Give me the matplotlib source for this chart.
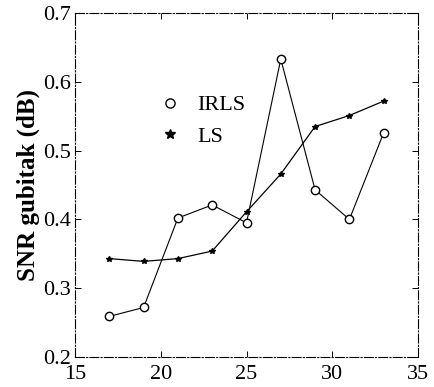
import numpy as np
import matplotlib
matplotlib.use("Agg")
import matplotlib.pyplot as plt  # noqa: E402

plt.rcParams["font.family"] = ["Liberation Serif", "DejaVu Serif"]

x = [17, 19, 21, 23, 25, 27, 29, 31, 33]
irls = [0.259, 0.272, 0.402, 0.421, 0.395, 0.633, 0.443, 0.400, 0.526]
ls = [0.343, 0.339, 0.343, 0.354, 0.411, 0.466, 0.535, 0.551, 0.572]
xticks = [15, 20, 25, 30, 35]
yticks = [0.2, 0.3, 0.4, 0.5, 0.6, 0.7]


def main():
    fig = plt.figure(figsize=(4.34, 3.87), dpi=100)
    ax = fig.add_axes([75 / 434, 30 / 387, 343 / 434, 344 / 387])

    ax.plot(x, irls, color="k", lw=0.8, marker="o", ms=6, mfc="white",
            mec="k", mew=1.0, label="IRLS")
    ax.plot(x, ls, color="k", lw=0.9, marker="*", ms=4, mfc="k", mec="k",
            label="LS")

    ax.set_xlim(15, 35)
    ax.set_ylim(0.2, 0.7)
    ax.set_xticks(xticks)
    ax.set_yticks(yticks)
    ax.set_xticklabels([str(t) for t in xticks])
    ax.set_yticklabels([f"{t:.1f}" for t in yticks])
    ax.tick_params(direction="in", top=True, right=True, labelsize=16,
                   length=4, width=0.7)
    ax.tick_params(axis="y", pad=3)
    ax.tick_params(axis="x", pad=6)
    for s in ax.spines.values():
        s.set_linewidth(0.8)
        s.set_linestyle((0, (8, 2, 1, 2)))

    ax.set_ylabel("SNR gubitak (dB)", fontsize=18, fontweight="bold", labelpad=2)

    leg = ax.legend(loc="upper left", bbox_to_anchor=(0.20, 0.82), frameon=False,
                    fontsize=16, handlelength=0.6, handletextpad=0.9,
                    labelspacing=0.5, markerscale=1.1)
    for h in leg.legend_handles:
        h.set_linestyle("none")
    leg.legend_handles[1].set_markersize(7)

    fig.savefig("out.png", dpi=100)


if __name__ == "__main__":
    main()
